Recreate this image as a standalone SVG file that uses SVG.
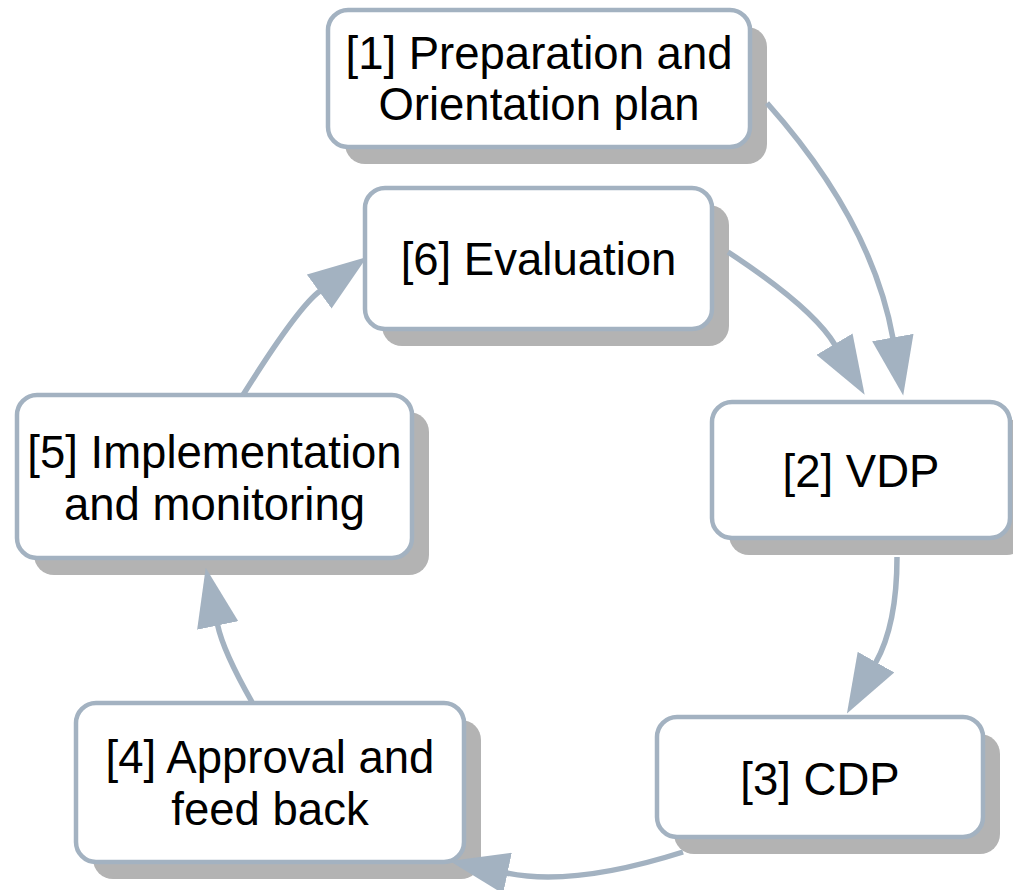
<svg xmlns="http://www.w3.org/2000/svg" width="1013" height="890" viewBox="0 0 1013 890">
<style>
.shadow{fill:#b3b3b3;stroke:none}
.box{fill:#ffffff;stroke:#a3b2c1;stroke-width:4.5}
.label{font-family:"Liberation Sans",Arial,sans-serif;font-size:45.5px;fill:#000000;text-anchor:middle}
.edge{fill:none;stroke:#a3b2c1;stroke-width:5.5}
</style>
<defs>
<marker id="arrow" markerUnits="userSpaceOnUse" viewBox="0 0 59 42" markerWidth="59" markerHeight="42" refX="1" refY="21" orient="auto">
<path d="M0,0 L59,21 L0,42 Z" fill="#a3b2c1"/>
</marker>
</defs>
<rect width="1013" height="890" fill="#ffffff"/>
<g id="node1">
<rect class="shadow" x="345" y="27" width="422" height="137" rx="20"/>
<rect class="box" x="328" y="10" width="422" height="137" rx="20"/>
<text class="label" x="539" y="68.5">[1] Preparation and</text>
<text class="label" x="539" y="120">Orientation plan</text>
</g>
<g id="node6">
<rect class="shadow" x="382" y="205" width="347" height="141" rx="20"/>
<rect class="box" x="365" y="188" width="347" height="141" rx="20"/>
<text class="label" x="538.5" y="275">[6] Evaluation</text>
</g>
<g id="node2">
<rect class="shadow" x="729" y="419" width="298" height="136" rx="20"/>
<rect class="box" x="712" y="402" width="298" height="136" rx="20"/>
<text class="label" x="861" y="487">[2] VDP</text>
</g>
<g id="node3">
<rect class="shadow" x="674" y="734" width="326" height="120" rx="20"/>
<rect class="box" x="657" y="717" width="326" height="120" rx="20"/>
<text class="label" x="820" y="795">[3] CDP</text>
</g>
<g id="node4">
<rect class="shadow" x="93" y="720" width="388" height="159" rx="20"/>
<rect class="box" x="76" y="703" width="388" height="159" rx="20"/>
<text class="label" x="270" y="773">[4] Approval and</text>
<text class="label" x="270" y="825">feed back</text>
</g>
<g id="node5">
<rect class="shadow" x="34" y="412" width="395" height="163" rx="20"/>
<rect class="box" x="17" y="395" width="395" height="163" rx="20"/>
<text class="label" x="214.5" y="468">[5] Implementation</text>
<text class="label" x="214.5" y="520">and monitoring</text>
</g>
<g id="connectors">
<path class="edge" d="M767,103 Q872,221 893,338.5" marker-end="url(#arrow)"/>
<path class="edge" d="M728,252 Q813,308 835,345" marker-end="url(#arrow)"/>
<path class="edge" d="M897,557 Q897,625 875.5,663" marker-end="url(#arrow)"/>
<path class="edge" d="M683,852 Q573,887 506.5,873" marker-end="url(#arrow)"/>
<path class="edge" d="M252,702 Q223,651 217.5,624.5" marker-end="url(#arrow)"/>
<path class="edge" d="M243,395 Q298,307 320,291" marker-end="url(#arrow)"/>
</g>
</svg>
